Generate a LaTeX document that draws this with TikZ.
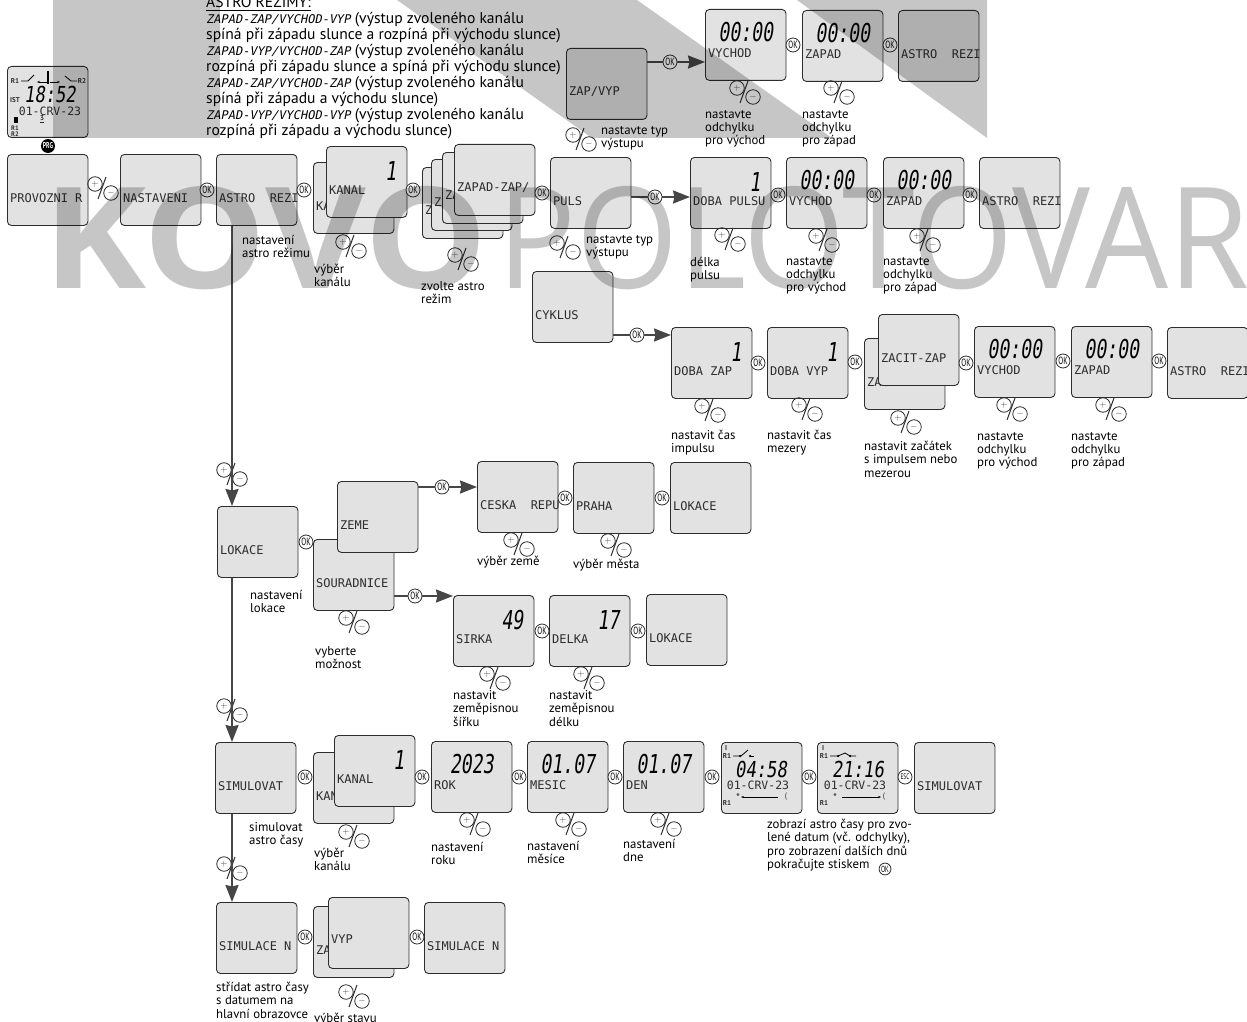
\documentclass[tikz,border=0pt]{standalone}
\usepackage{fontspec}
\usepackage{amsmath}
\usetikzlibrary{arrows.meta,positioning,calc}
\setmainfont{PT Sans}
\newfontfamily\lcdfont{DejaVu Sans Mono}
\newfontfamily\lcdslant[FakeSlant=.2]{DejaVu Sans Mono}
\newfontfamily\lcdbig[FakeStretch=.7,FakeSlant=.14]{DejaVu Sans Mono}
\newfontfamily\lcdtime[FakeStretch=.78,FakeSlant=.14]{DejaVu Sans Mono}
\newfontfamily\okfont[FakeStretch=.68]{PT Sans}
\newfontfamily\markbold[FakeStretch=1.1]{Open Sans}
\newfontfamily\marklight[FakeStretch=.93]{Open Sans}
\definecolor{LcdFill}{RGB}{226,226,226}
\definecolor{LcdInk}{RGB}{45,45,45}
\definecolor{LinkGray}{RGB}{70,70,70}
\tikzset{
  screen/.style={draw=LcdInk,fill=LcdFill,rounded corners=4pt,line width=.9pt,anchor=north west,minimum width=80.5pt,minimum height=71pt,inner sep=0pt},
  lcdline/.style={anchor=west,xshift=3pt,yshift=-8pt,inner sep=0pt,minimum width=0pt,minimum height=0pt,text=LcdInk,font=\lcdfont\fontsize{12}{12}\selectfont},
  clocknum/.style={anchor=center,inner sep=0pt,minimum width=0pt,minimum height=0pt,text=black,font=\lcdbig\fontsize{26}{26}\selectfont},
  timenum/.style={clocknum,font=\lcdtime\fontsize{22}{22}\selectfont},
  lcdnum/.style={clocknum,yshift=13pt},
  lcdright/.style={clocknum,anchor=east,xshift=-11pt,yshift=11pt},
  smalltext/.style={inner sep=0pt,text=LcdInk,font=\bfseries\fontsize{7}{7}\selectfont},
  clocktext/.style={inner sep=0pt,text=LcdInk,font=\lcdfont\fontsize{11.5}{11.5}\selectfont},
  okbadge/.style={circle,draw=LcdInk,fill=white,line width=.8pt,minimum size=14pt,inner sep=0pt,font=\okfont\fontsize{10.5}{10.5}\selectfont},
  prgbadge/.style={circle,fill=black,text=white,minimum size=14pt,inner sep=0pt,font=\okfont\bfseries\fontsize{8.5}{8.5}\selectfont},
  pmcircle/.style={circle,draw=LcdInk,line width=.8pt,minimum size=14.5pt,inner sep=0pt,text=black!75,font=\fontsize{9}{9}\selectfont},
  caption/.style={anchor=north west,align=left,inner sep=0pt,yshift=-3pt,font=\fontsize{12.8}{13.4}\selectfont},
  link/.style={draw=LinkGray,line width=2pt},
  linkarrow/.style={draw=LinkGray,line width=2pt,-{Stealth[length=17pt,width=13pt,inset=1.5pt]}},
  clockline/.style={draw=black,line width=.8pt},
  clockdot/.style={circle,fill=black,minimum size=2.5pt,inner sep=0pt},
  overlay/.style={fill=black,opacity=.2235},
  markletters/.style={anchor=base west,inner sep=0pt,text=black,opacity=.2235},
  pmsign/.pic={\node[pmcircle] (-plus) at (0,0) {$+$};\node[pmcircle] (-minus) at (16,9) {$-$};\draw[line width=1pt,draw=LcdInk] (11,-7)--(3,15);}
}
\begin{document}
\begin{tikzpicture}[x=1pt,y=-1pt]
\useasboundingbox (0,0) rectangle (1247,1022);
\coordinate (trunk) at (232,500);

\node[anchor=north west,align=left,inner sep=0pt,font=\fontsize{15.6}{16}\selectfont] (modes) at (206,-6) {\underline{ASTRO REŽIMY:}\\
{\lcdslant\fontsize{12}{16}\selectfont ZAPAD-ZAP/VYCHOD-VYP} (výstup zvoleného kanálu\\
spíná při západu slunce a rozpíná při východu slunce)\\
{\lcdslant\fontsize{12}{16}\selectfont ZAPAD-VYP/VYCHOD-ZAP} (výstup zvoleného kanálu\\
rozpíná při západu slunce a spíná při východu slunce)\\
{\lcdslant\fontsize{12}{16}\selectfont ZAPAD-ZAP/VYCHOD-ZAP} (výstup zvoleného kanálu\\
spíná při západu a východu slunce)\\
{\lcdslant\fontsize{12}{16}\selectfont ZAPAD-VYP/VYCHOD-VYP} (výstup zvoleného kanálu\\
rozpíná při západu a východu slunce)};

\node[screen] (main) at (7,66) {};
\node[smalltext] (mainRa) at (15,81) {R1};
\node[smalltext] (mainRb) at (82,81) {R2};
\node[smalltext] (mainIst) at (15,100) {IST};
\node[smalltext,align=center,font=\bfseries\fontsize{6.5}{6}\selectfont] (mainRc) at (15,131) {R1\\R2};
\node[timenum] (mainTime) at (50,94) {18:52};
\node[clocktext] (mainDate) at (50,111) {01-CRV-23};
\node[smalltext] (mainThree) at (42,119) {\underline{3}};
\fill[black] (14,117) rectangle (18,123);
\draw[clockline] (21,81)--(28,81)--(34,75);
\draw[clockline,-{Stealth[length=3pt]}] (47,82)--(37,82);
\draw[clockline,-{Stealth[length=3pt]}] (50,82)--(60,82);
\draw[black,line width=1.4pt] (48,71)--(48,84);
\draw[clockline] (65,76)--(71,81)--(77,81);
\node[prgbadge] (prg) at (48,146) {PRG};

\node[screen,label={[lcdline]west:PROVOZNI R}] (provozni) at (7,154) {};
\pic (pmProvozni) at (95,184) {pmsign};
\node[screen,label={[lcdline]west:NASTAVENI}] (nastaveni) at (120,154) {};
\node[okbadge] (okA) at (207,190) {OK};
\node[screen,label={[lcdline]west:ASTRO~~REZI}] (astro) at (216,154) {};
\node[okbadge] (okB) at (304,190) {OK};
\node[caption] (capAstro) at (242,232) {nastavení\\astro režimu};
\node[screen,label={[lcdline]west:KANAL}] (kanalBack) at (313,162) {};
\node[screen,label={[lcdline]west:KANAL},label={[lcdright]east:1}] (kanal) at (326,146) {};
\pic (pmKanal) at (343,242) {pmsign};
\node[caption] (capKanal) at (314,261) {výběr\\kanálu};
\node[okbadge] (okC) at (413,190) {OK};
\node[screen,label={[lcdline]west:ZAPAD-ZAP/}] (modeD) at (422,167) {};
\node[screen,label={[lcdline]west:ZAPAD-ZAP/}] (modeC) at (431,159) {};
\node[screen,label={[lcdline]west:ZAPAD-ZAP/}] (modeB) at (442,152) {};
\node[screen,label={[lcdline]west:ZAPAD-ZAP/}] (modeA) at (454,144) {};
\pic (pmMode) at (455,255) {pmsign};
\node[caption] (capMode) at (421,278) {zvolte astro\\režim};
\node[okbadge] (okD) at (542,193) {OK};
\node[screen,label={[lcdline]west:PULS}] (puls) at (550,157) {};
\pic (pmPuls) at (557,243) {pmsign};
\node[caption] (capPuls) at (586,232) {nastavte typ\\výstupu};

\node[screen,label={[lcdline]west:ZAP/VYP}] (zapvyp) at (566,48) {};
\pic (pmZapvyp) at (573,135) {pmsign};
\node[caption] (capZapvyp) at (601,123) {nastavte typ\\výstupu};
\node[okbadge] (okE) at (670,62) {OK};
\node[screen,label={[lcdline]west:VYCHOD},label={[lcdnum]center:{00:00}}] (vychodA) at (705,9) {};
\pic (pmVychodA) at (737,88) {pmsign};
\node[caption] (capVychodA) at (705,107) {nastavte\\odchylku\\pro východ};
\node[okbadge] (okF) at (793,45) {OK};
\node[screen,label={[lcdline]west:ZAPAD},label={[lcdnum]center:{00:00}}] (zapadA) at (802,10) {};
\pic (pmZapadA) at (831,88) {pmsign};
\node[caption] (capZapadA) at (802,107) {nastavte\\odchylku\\pro západ};
\node[okbadge] (okG) at (890,45) {OK};
\node[screen,label={[lcdline]west:ASTRO~~REZI}] (astroA) at (898,10) {};

\node[okbadge] (okH) at (655,197) {OK};
\node[screen,label={[lcdline]west:DOBA PULSU},label={[lcdright]east:1}] (dobapuls) at (690,157) {};
\pic (pmDobapuls) at (722,235) {pmsign};
\node[caption] (capDobapuls) at (690,254) {délka\\pulsu};
\node[okbadge] (okI) at (778,195) {OK};
\node[screen,label={[lcdline]west:VYCHOD},label={[lcdnum]center:{00:00}}] (vychodB) at (786,157) {};
\pic (pmVychodB) at (816,236) {pmsign};
\node[caption] (capVychodB) at (786,254) {nastavte\\odchylku\\pro východ};
\node[okbadge] (okJ) at (874,195) {OK};
\node[screen,label={[lcdline]west:ZAPAD},label={[lcdnum]center:{00:00}}] (zapadB) at (883,157) {};
\pic (pmZapadB) at (917,236) {pmsign};
\node[caption] (capZapadB) at (883,254) {nastavte\\odchylku\\pro západ};
\node[okbadge] (okK) at (970,195) {OK};
\node[screen,label={[lcdline]west:ASTRO~~REZI}] (astroB) at (979,157) {};

\node[screen,label={[lcdline]west:CYKLUS}] (cyklus) at (532,271) {};
\node[okbadge] (okL) at (637,335) {OK};
\node[screen,label={[lcdline]west:DOBA ZAP},label={[lcdright]east:1}] (dobazap) at (671,327) {};
\pic (pmDobazap) at (702,406) {pmsign};
\node[caption] (capDobazap) at (671,427) {nastavit čas\\impulsu};
\node[okbadge] (okM) at (758,363) {OK};
\node[screen,label={[lcdline]west:DOBA VYP},label={[lcdright]east:1}] (dobavyp) at (767,327) {};
\pic (pmDobavyp) at (799,405) {pmsign};
\node[caption] (capDobavyp) at (767,427) {nastavit čas\\mezery};
\node[okbadge] (okN) at (855,362) {OK};
\node[screen,label={[lcdline]west:ZACIT-ZAP}] (zacitBack) at (864,338) {};
\node[screen,label={[lcdline]west:ZACIT-ZAP}] (zacit) at (878,314) {};
\pic (pmZacit) at (898,418) {pmsign};
\node[caption] (capZacit) at (864,438) {nastavit začátek\\s impulsem nebo\\mezerou};
\node[okbadge] (okO) at (966,363) {OK};
\node[screen,label={[lcdline]west:VYCHOD},label={[lcdnum]center:{00:00}}] (vychodC) at (974,326) {};
\pic (pmVychodC) at (1004,405) {pmsign};
\node[caption] (capVychodC) at (977,429) {nastavte\\odchylku\\pro východ};
\node[okbadge] (okP) at (1063,361) {OK};
\node[screen,label={[lcdline]west:ZAPAD},label={[lcdnum]center:{00:00}}] (zapadC) at (1071,326) {};
\pic (pmZapadC) at (1103,405) {pmsign};
\node[caption] (capZapadC) at (1071,429) {nastavte\\odchylku\\pro západ};
\node[okbadge] (okQ) at (1159,361) {OK};
\node[screen,label={[lcdline]west:ASTRO~~REZI}] (astroC) at (1167,327) {};

\pic (pmLokace) at (224,470) {pmsign};
\node[screen,label={[lcdline]west:LOKACE}] (lokace) at (217,506) {};
\node[caption] (capLokace) at (250,587) {nastavení\\lokace};
\node[okbadge] (okR) at (306,542) {OK};
\node[screen,label={[lcdline]west:SOURADNICE}] (souradnice) at (313,539) {};
\node[screen,label={[lcdline]west:ZEME}] (zeme) at (337,481) {};
\pic (pmSouradnice) at (346,618) {pmsign};
\node[caption] (capSouradnice) at (315,643) {vyberte\\možnost};
\node[okbadge] (okS) at (442,487) {OK};
\node[screen,label={[lcdline]west:CESKA~~REPU}] (ceska) at (477,461) {};
\pic (pmCeska) at (511,540) {pmsign};
\node[caption] (capCeska) at (477,553) {výběr země};
\node[okbadge] (okT) at (565,498) {OK};
\node[screen,label={[lcdline]west:PRAHA}] (praha) at (573,462) {};
\pic (pmPraha) at (608,541) {pmsign};
\node[caption] (capPraha) at (573,556) {výběr města};
\node[okbadge] (okU) at (662,498) {OK};
\node[screen,label={[lcdline]west:LOKACE}] (lokaceA) at (670,462) {};
\node[okbadge] (okV) at (415,596) {OK};
\node[screen,label={[lcdline]west:SIRKA},label={[lcdright]east:49}] (sirka) at (453,595) {};
\pic (pmSirka) at (487,674) {pmsign};
\node[caption] (capSirka) at (453,687) {nastavit\\zeměpisnou\\šířku};
\node[okbadge] (okW) at (542,631) {OK};
\node[screen,label={[lcdline]west:DELKA},label={[lcdright]east:17}] (delka) at (549,595) {};
\pic (pmDelka) at (581,674) {pmsign};
\node[caption] (capDelka) at (549,687) {nastavit\\zeměpisnou\\délku};
\node[okbadge] (okX) at (638,631) {OK};
\node[screen,label={[lcdline]west:LOKACE}] (lokaceB) at (646,594) {};

\pic (pmSimulovat) at (224,706) {pmsign};
\node[screen,label={[lcdline]west:SIMULOVAT}] (simulovat) at (215,742) {};
\node[caption] (capSimulovat) at (249,819) {simulovat\\astro časy};
\node[okbadge] (okY) at (305,777) {OK};
\node[screen,label={[lcdline]west:KANAL}] (kanalSimBack) at (313,752) {};
\node[screen,label={[lcdline]west:KANAL},label={[lcdright]east:1}] (kanalSim) at (334,735) {};
\pic (pmKanalSim) at (346,832) {pmsign};
\node[caption] (capKanalSim) at (314,845) {výběr\\kanálu};
\node[okbadge] (okZ) at (422,777) {OK};
\node[screen,label={[lcdline]west:ROK},label={[lcdnum]center:2023}] (rok) at (431,741) {};
\pic (pmRok) at (467,820) {pmsign};
\node[caption] (capRok) at (431,839) {nastavení\\roku};
\node[okbadge] (okAa) at (519,777) {OK};
\node[screen,label={[lcdline]west:MESIC},label={[lcdnum]center:01.07}] (mesic) at (527,741) {};
\pic (pmMesic) at (563,820) {pmsign};
\node[caption] (capMesic) at (527,838) {nastavení\\měsíce};
\node[okbadge] (okAb) at (615,777) {OK};
\node[screen,label={[lcdline]west:DEN},label={[lcdnum]center:01.07}] (den) at (623,741) {};
\pic (pmDen) at (658,820) {pmsign};
\node[caption] (capDen) at (623,836) {nastavení\\dne};
\node[okbadge] (okAc) at (712,777) {OK};

\node[screen] (clockA) at (721,742) {};
\node[smalltext] (clockAi) at (726,748) {I};
\node[smalltext] (clockAr) at (727,756) {R1};
\draw[clockline] (733,756)--(741,756)--(748,750);
\draw[clockline] (750,756)--(754,756);
\node[clockdot] (clockAdotA) at (740,756) {};
\node[clockdot] (clockAdotB) at (750,756) {};
\node[timenum] (clockAtime) at (761,769) {04:58};
\node[clocktext] (clockAdate) at (758,785) {01-CRV-23};
\node[smalltext,font=\fontsize{11}{11}\selectfont] (clockAsun) at (738,798) {*};
\draw[clockline,{Stealth[length=3pt]}-] (741,797)--(778,797);
\node[smalltext,font=\fontsize{8}{8}\selectfont] (clockAmoon) at (786,797) {(};
\node[smalltext] (clockAq) at (727,803) {R1};
\node[okbadge] (okAd) at (809,777) {OK};
\node[screen] (clockB) at (817,742) {};
\node[smalltext] (clockBi) at (823,748) {I};
\node[smalltext] (clockBr) at (824,756) {R1};
\draw[clockline] (830,756)--(838,756)--(845,753)--(850,756)--(856,756);
\node[clockdot] (clockBdotA) at (838,756) {};
\node[clockdot] (clockBdotB) at (850,756) {};
\node[timenum] (clockBtime) at (858,769) {21:16};
\node[clocktext] (clockBdate) at (855,785) {01-CRV-23};
\node[smalltext,font=\fontsize{11}{11}\selectfont] (clockBsun) at (835,798) {*};
\draw[clockline,-{Stealth[length=3pt]}] (842,797)--(881,797);
\node[smalltext,font=\fontsize{8}{8}\selectfont] (clockBmoon) at (884,797) {(};
\node[smalltext] (clockBq) at (824,803) {R1};
\node[okbadge,font=\okfont\fontsize{8}{8}\selectfont] (esc) at (905,777) {ESC};
\node[screen,label={[lcdline]west:SIMULOVAT}] (simulovatA) at (914,742) {};
\node[caption] (capClock) at (767,816) {zobrazí astro časy pro zvo-\\lené datum (vč. odchylky),\\pro zobrazení dalších dnů\\pokračujte stiskem};
\node[okbadge,scale=.85] (okAe) at (885,869) {OK};

\pic (pmSimulace) at (224,864) {pmsign};
\node[screen,label={[lcdline]west:SIMULACE N}] (simulace) at (216,902) {};
\node[caption] (capSimulace) at (216,979) {střídat astro časy\\s datumem na\\hlavní obrazovce};
\node[okbadge] (okAf) at (305,937) {OK};
\node[screen,label={[lcdline]west:ZAPNUTO}] (stavBack) at (313,906) {};
\node[screen,label={[lcdline,yshift=2pt]west:VYP}] (stav) at (328,897) {};
\pic (pmStav) at (346,992) {pmsign};
\node[caption] (capStav) at (314,1010) {výběr stavu};
\node[okbadge] (okAg) at (417,937) {OK};
\node[screen,label={[lcdline]west:SIMULACE N}] (simulaceA) at (424,902) {};

\draw[linkarrow] (astro.south -| trunk)--(lokace.north -| trunk);
\draw[linkarrow] (lokace.south -| trunk)--(simulovat.north -| trunk);
\draw[linkarrow] (simulovat.south -| trunk)--(simulace.north -| trunk);
\draw[link] (zapvyp.east |- okE)--(okE.west);\draw[linkarrow] (okE.east)--(vychodA.west |- okE);
\draw[link] (puls.east |- okH)--(okH.west);\draw[linkarrow] (okH.east)--(dobapuls.west |- okH);
\draw[link] (cyklus.east |- okL)--(okL.west);\draw[linkarrow] (okL.east)--(dobazap.west |- okL);
\draw[link] (zeme.east |- okS)--(okS.west);\draw[linkarrow] (okS.east)--(ceska.west |- okS);
\draw[link] (souradnice.east |- okV)--(okV.west);\draw[linkarrow] (okV.east)--(sirka.west |- okV);

\fill[overlay] (53,0) rectangle (220,138);
\fill[overlay] (397,0)--(637,0)--(832,138)--(592,138)--cycle;
\fill[overlay] (797,0)--(987,0)--(987,138)--cycle;
\node[markletters,font=\markbold\bfseries\fontsize{141}{141}\selectfont] (markKovo) at (43,288) {KOVO};
\node[markletters,font=\marklight\fontsize{141}{141}\selectfont] (markPolo) at (497,288) {POLOTOVARY};
\end{tikzpicture}
\end{document}
